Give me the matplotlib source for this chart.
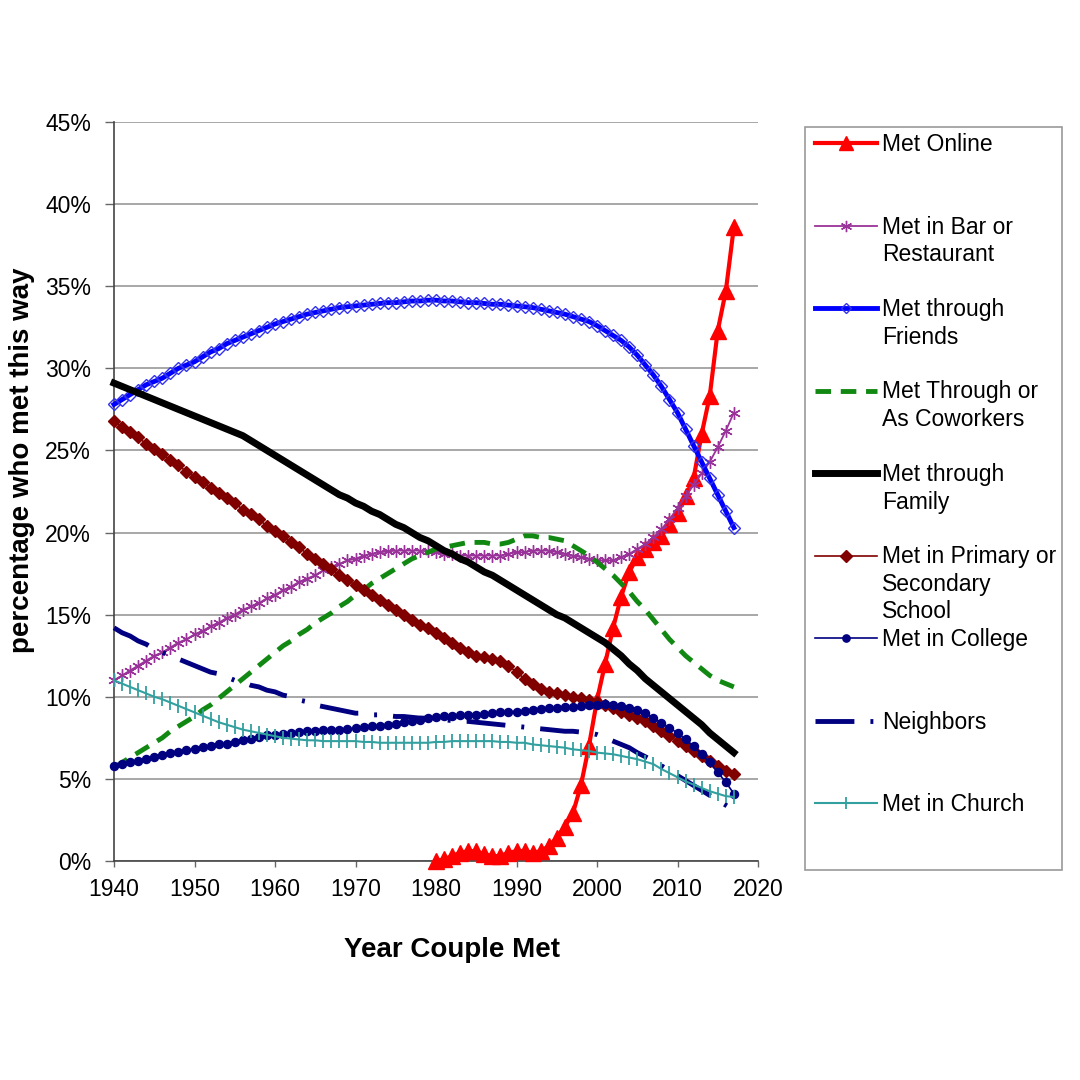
import matplotlib
matplotlib.use('Agg')
import matplotlib.pyplot as plt
from matplotlib.lines import Line2D
from matplotlib.patches import Rectangle
import numpy as np

plt.rcParams['font.family'] = ['Liberation Sans', 'DejaVu Sans']

years = list(range(1940, 2018))
online_years = list(range(1980, 2018))

# percentages by year couple met (1940-2017)
friends = [27.8, 28.1, 28.4, 28.7, 29.0, 29.2, 29.4, 29.7, 30.0, 30.2,
           30.4, 30.7, 31.0, 31.2, 31.5, 31.7, 31.9, 32.1, 32.3, 32.5,
           32.7, 32.85, 33.0, 33.15, 33.3, 33.4, 33.5, 33.6, 33.7, 33.75,
           33.8, 33.85, 33.9, 33.95, 34.0, 34.0, 34.05, 34.1, 34.1, 34.15,
           34.15, 34.1, 34.1, 34.05, 34.0, 34.0, 33.95, 33.9, 33.9, 33.85,
           33.8, 33.75, 33.7, 33.6, 33.5, 33.4, 33.3, 33.15, 33.0, 32.85,
           32.6, 32.3, 32.0, 31.7, 31.3, 30.8, 30.2, 29.6, 28.9, 28.1,
           27.3, 26.3, 25.3, 24.3, 23.3, 22.3, 21.3, 20.3]
family = [29.1, 28.9, 28.7, 28.5, 28.3, 28.1, 27.9, 27.7, 27.5, 27.3,
          27.1, 26.9, 26.7, 26.5, 26.3, 26.1, 25.9, 25.6, 25.3, 25.0,
          24.7, 24.4, 24.1, 23.8, 23.5, 23.2, 22.9, 22.6, 22.3, 22.1,
          21.8, 21.6, 21.3, 21.1, 20.8, 20.5, 20.3, 20.0, 19.7, 19.5,
          19.2, 18.9, 18.7, 18.4, 18.2, 17.9, 17.6, 17.4, 17.1, 16.8,
          16.5, 16.2, 15.9, 15.6, 15.3, 15.0, 14.8, 14.5, 14.2, 13.9,
          13.6, 13.3, 12.9, 12.5, 12.0, 11.6, 11.1, 10.7, 10.3, 9.9,
          9.5, 9.1, 8.7, 8.3, 7.8, 7.4, 7.0, 6.6]
school = [26.8, 26.4, 26.1, 25.8, 25.4, 25.1, 24.8, 24.4, 24.1, 23.7,
          23.4, 23.1, 22.7, 22.4, 22.1, 21.8, 21.4, 21.1, 20.8, 20.4,
          20.1, 19.8, 19.4, 19.1, 18.7, 18.4, 18.1, 17.8, 17.4, 17.1,
          16.8, 16.5, 16.2, 15.9, 15.6, 15.3, 15.0, 14.7, 14.4, 14.2,
          13.9, 13.6, 13.3, 13.0, 12.7, 12.5, 12.4, 12.3, 12.2, 11.9,
          11.5, 11.1, 10.8, 10.5, 10.3, 10.2, 10.1, 10.0, 9.9, 9.8,
          9.7, 9.5, 9.3, 9.1, 8.9, 8.7, 8.5, 8.2, 7.9, 7.6,
          7.3, 7.0, 6.7, 6.4, 6.1, 5.8, 5.5, 5.3]
bar = [11.0, 11.3, 11.6, 11.9, 12.2, 12.5, 12.7, 13.0, 13.3, 13.5,
       13.8, 14.0, 14.3, 14.5, 14.8, 15.0, 15.3, 15.5, 15.7, 16.0,
       16.2, 16.5, 16.7, 17.0, 17.2, 17.4, 17.7, 17.9, 18.1, 18.3,
       18.4, 18.6, 18.7, 18.8, 18.85, 18.9, 18.9, 18.9, 18.9, 18.85,
       18.8, 18.7, 18.7, 18.6, 18.6, 18.6, 18.6, 18.6, 18.6, 18.7,
       18.8, 18.8, 18.9, 18.9, 18.9, 18.8, 18.7, 18.6, 18.5, 18.4,
       18.3, 18.3, 18.3, 18.5, 18.7, 19.0, 19.3, 19.7, 20.2, 20.8,
       21.5, 22.2, 22.9, 23.6, 24.3, 25.2, 26.2, 27.3]
coworkers = [5.7, 6.0, 6.3, 6.6, 6.9, 7.2, 7.5, 7.9, 8.2, 8.5,
             8.8, 9.2, 9.5, 9.9, 10.3, 10.7, 11.1, 11.5, 11.9, 12.3,
             12.7, 13.1, 13.4, 13.8, 14.1, 14.5, 14.8, 15.1, 15.5, 15.8,
             16.2, 16.5, 16.9, 17.2, 17.5, 17.8, 18.1, 18.4, 18.6, 18.8,
             19.0, 19.1, 19.2, 19.3, 19.4, 19.4, 19.4, 19.3, 19.3, 19.4,
             19.6, 19.8, 19.8, 19.7, 19.7, 19.6, 19.5, 19.2, 18.9, 18.6,
             18.2, 17.8, 17.4, 16.9, 16.4, 15.8, 15.3, 14.7, 14.1, 13.5,
             13.0, 12.5, 12.1, 11.7, 11.3, 11.0, 10.8, 10.6]
college = [5.8, 5.9, 6.0, 6.1, 6.2, 6.35, 6.45, 6.55, 6.65, 6.75,
           6.85, 6.95, 7.0, 7.1, 7.15, 7.25, 7.35, 7.45, 7.55, 7.65,
           7.7, 7.75, 7.8, 7.85, 7.9, 7.9, 7.95, 8.0, 8.0, 8.05,
           8.1, 8.15, 8.2, 8.25, 8.3, 8.35, 8.45, 8.5, 8.6, 8.7,
           8.75, 8.8, 8.85, 8.9, 8.9, 8.9, 8.95, 9.0, 9.05, 9.1,
           9.1, 9.15, 9.2, 9.25, 9.3, 9.3, 9.35, 9.4, 9.45, 9.5,
           9.5, 9.55, 9.5, 9.45, 9.3, 9.2, 9.0, 8.7, 8.4, 8.1,
           7.8, 7.4, 7.0, 6.5, 6.0, 5.4, 4.8, 4.1]
neighbors = [14.2, 13.9, 13.7, 13.4, 13.2, 12.9, 12.7, 12.5, 12.3, 12.1,
             11.9, 11.7, 11.5, 11.4, 11.2, 11.0, 10.9, 10.7, 10.6, 10.4,
             10.3, 10.1, 10.0, 9.8, 9.7, 9.5, 9.4, 9.3, 9.2, 9.1,
             9.0, 9.0, 8.9, 8.9, 8.85, 8.8, 8.8, 8.75, 8.7, 8.7,
             8.65, 8.6, 8.55, 8.5, 8.5, 8.45, 8.4, 8.35, 8.3, 8.25,
             8.2, 8.15, 8.1, 8.05, 8.0, 7.95, 7.9, 7.9, 7.85, 7.8,
             7.7, 7.5, 7.3, 7.1, 6.9, 6.6, 6.35, 6.1, 5.8, 5.5,
             5.2, 4.9, 4.6, 4.3, 4.0, 3.7, 3.4, 3.1]
church = [11.0, 10.8, 10.6, 10.4, 10.2, 10.0, 9.85, 9.65, 9.45, 9.25,
          9.05, 8.85, 8.65, 8.45, 8.3, 8.15, 8.0, 7.9, 7.8, 7.7,
          7.6, 7.5, 7.45, 7.4, 7.35, 7.35, 7.3, 7.3, 7.3, 7.3,
          7.3, 7.25, 7.25, 7.2, 7.2, 7.2, 7.2, 7.2, 7.2, 7.2,
          7.25, 7.25, 7.3, 7.3, 7.3, 7.3, 7.3, 7.3, 7.25, 7.25,
          7.2, 7.2, 7.1, 7.05, 7.0, 6.95, 6.9, 6.8, 6.75, 6.7,
          6.6, 6.55, 6.5, 6.4, 6.3, 6.2, 6.05, 5.9, 5.6, 5.35,
          5.1, 4.85, 4.65, 4.45, 4.25, 4.1, 3.95, 3.9]
online = [0.0, 0.1, 0.3, 0.5, 0.6, 0.6, 0.4, 0.3, 0.3, 0.5,
          0.6, 0.6, 0.5, 0.6, 0.9, 1.4, 2.1, 2.9, 4.6, 7.0,
          9.8, 12.0, 14.2, 16.1, 17.6, 18.5, 19.0, 19.4, 19.8, 20.5,
          21.2, 22.2, 23.3, 26.0, 28.3, 32.3, 34.7, 38.6]

labels = ['Met Online', 'Met in Bar or\nRestaurant', 'Met through\nFriends',
          'Met Through or\nAs Coworkers', 'Met through\nFamily',
          'Met in Primary or\nSecondary\nSchool', 'Met in College',
          'Neighbors', 'Met in Church']

NAVY = '#000080'
styles = [
    dict(color='#ff0000', lw=3, marker='^', ms=11, mec='#ff0000', mfc='#ff0000'),
    dict(color='#993399', lw=1.3, marker=(6, 2, 0), ms=9, mew=1.0, mec='#993399'),
    dict(color='#0000ff', lw=3.5, marker='D', ms=5.8, mfc='none', mec='#3333ee', mew=1.0),
    dict(color='#118811', lw=3.5, ls=(0, (3.2, 2.0))),
    dict(color='black', lw=5),
    dict(color='#800000', lw=1.2, marker='D', ms=6.5, mec='#800000', mfc='#800000'),
    dict(color=NAVY, lw=1.2, marker='o', ms=5.8, mec=NAVY, mfc=NAVY),
    dict(color=NAVY, lw=3.5, ls=(0, (8, 3.3, 0.6, 3.3))),
    dict(color='#33a0a0', lw=1.5, marker='|', ms=10, mew=1.3, mec='#33a0a0'),
]

series = [online, bar, friends, coworkers, family, school, college, neighbors, church]

fig = plt.figure(figsize=(10.8, 10.8), dpi=100)
W = H = 1080.0
ax = fig.add_axes([114 / W, 1 - 861 / H, (758 - 114) / W, (861 - 122) / H])

for i, (vals, st) in enumerate(zip(series, styles)):
    xs = online_years if i == 0 else years
    ax.plot(xs, np.array(vals) / 100.0, zorder=3 + i, clip_on=False, **st)

ax.set_xlim(1940, 2020)
ax.set_ylim(0, 0.45)
ax.set_xticks(range(1940, 2021, 10))
ax.set_yticks(np.arange(0, 0.451, 0.05))
ax.set_yticklabels(['%d%%' % round(v * 100) for v in np.arange(0, 0.451, 0.05)])
ax.tick_params(axis='both', labelsize=16.5, direction='out', width=1, color='#666666')
ax.tick_params(axis='x', length=4, pad=8)
ax.tick_params(axis='y', length=6.5, pad=10)
ax.grid(axis='y', color='#a0a0a0', lw=1.3)
ax.set_axisbelow(True)
for s in ['top', 'right']:
    ax.spines[s].set_visible(False)
for s in ['left', 'bottom']:
    ax.spines[s].set_color('#444444')
    ax.spines[s].set_linewidth(1.2)

fig.text(452 / W, 1 - 950 / H, 'Year Couple Met', fontsize=20, fontweight='bold',
         ha='center', va='center')
fig.text(22 / W, 1 - 460 / H, 'percentage who met this way', fontsize=20,
         fontweight='bold', rotation=90, ha='center', va='center')

# legend drawn by hand to match the spacing of the original
fig.patches.append(Rectangle((805 / W, 1 - 870 / H), (1062 - 805) / W, (870 - 127) / H,
                             transform=fig.transFigure, fill=False, ec='#999999', lw=1.2))
for i, (lab, st) in enumerate(zip(labels, styles)):
    yc = 143 + 82.5 * i
    hs = dict(st)
    if 'ms' in hs:
        hs['ms'] = hs['ms'] * 0.9
    hs['markevery'] = [1]
    ln = Line2D([815 / W, 846 / W, 877 / W], [1 - yc / H] * 3, transform=fig.transFigure, **hs)
    fig.lines.append(ln)
    fig.text(882 / W, 1 - (yc - 10) / H, lab, fontsize=16.5, ha='left', va='top',
             linespacing=1.25)

fig.savefig('out.png', dpi=100)
